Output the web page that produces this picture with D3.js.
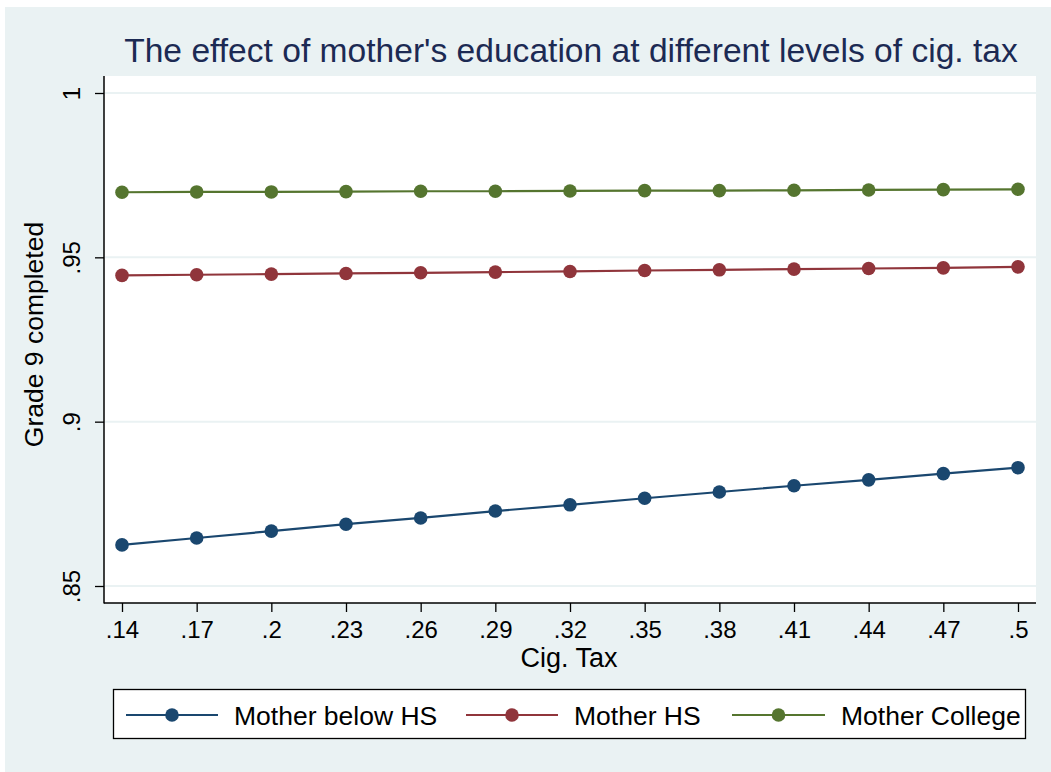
<!DOCTYPE html>
<html><head><meta charset="utf-8">
<script src="https://cdn.jsdelivr.net/npm/d3@7"></script>
<style>
html,body{margin:0;padding:0;background:#ffffff;}
svg{display:block;font-family:"Liberation Sans",Arial,sans-serif;}
</style></head>
<body><svg id="chart" width="1051" height="772"></svg>
<script>
const cigTax = [0.14,0.17,0.20,0.23,0.26,0.29,0.32,0.35,0.38,0.41,0.44,0.47,0.50];
const xTickLabels = [".14",".17",".2",".23",".26",".29",".32",".35",".38",".41",".44",".47",".5"];
const yTicks = [0.85,0.90,0.95,1.00];
const yTickLabels = [".85",".9",".95","1"];
const belowHS = [0.8625,0.8646,0.8667,0.8688,0.8707,0.8728,0.8747,0.8767,0.8786,0.8805,0.8823,0.8842,0.8860];
const motherHS = [0.9445,0.9447,0.9449,0.9451,0.9453,0.9455,0.9457,0.9460,0.9462,0.9464,0.9466,0.9468,0.9471];
const college = [0.9698,0.9699,0.9699,0.9700,0.9701,0.9701,0.9702,0.9703,0.9703,0.9704,0.9705,0.9706,0.9707];
const seriesNames = ["Mother below HS","Mother HS","Mother College"];
const seriesColors = ["#1a476f","#90353b","#55752f"];
const titleText = "The effect of mother's education at different levels of cig. tax";
const xTitle = "Cig. Tax";
const yTitle = "Grade 9 completed";

const svg = d3.select("#chart");
const W = 1051, H = 772;
const plot = {l:104, r:1036, t:76, b:603};

svg.append("rect").attr("x",5).attr("y",7).attr("width",W-5).attr("height",H-7).attr("fill","#eaf2f3");
svg.append("rect").attr("x",plot.l).attr("y",plot.t).attr("width",plot.r-plot.l).attr("height",plot.b-plot.t).attr("fill","#ffffff");

const x = d3.scaleLinear().domain([0.14,0.50]).range([122,1018]);
const y = d3.scaleLinear().domain([0.85,1.0]).range([586,93]);

// gridlines
svg.append("g").selectAll("line").data(yTicks).join("line")
  .attr("x1",plot.l+1).attr("x2",plot.r).attr("y1",d=>y(d)).attr("y2",d=>y(d))
  .attr("stroke","#eaf2f3").attr("stroke-width",2);

// y axis
const yAxis = d3.axisLeft(y).tickValues(yTicks).tickFormat((d,i)=>yTickLabels[i]).tickSize(9).tickSizeOuter(0);
const gy = svg.append("g").attr("transform",`translate(${plot.l},0)`).call(yAxis);
gy.select(".domain").remove();
gy.append("line").attr("x1",0).attr("x2",0).attr("y1",plot.t).attr("y2",plot.b+0.5).attr("stroke","#000").attr("stroke-width",1.5);
gy.selectAll(".tick line").attr("stroke","#000").attr("stroke-width",1.3);
gy.selectAll(".tick text").attr("font-size",24).attr("fill","#000")
  .attr("font-family","Liberation Sans, Arial, sans-serif")
  .attr("transform","rotate(-90)").attr("x",0).attr("y",-24).attr("dy",0)
  .attr("text-anchor","middle");

// x axis
const xAxis = d3.axisBottom(x).tickValues(cigTax).tickFormat((d,i)=>xTickLabels[i]).tickSize(9).tickSizeOuter(0);
const gx = svg.append("g").attr("transform",`translate(0,${plot.b})`).call(xAxis);
gx.select(".domain").remove();
gx.append("line").attr("x1",plot.l).attr("x2",plot.r).attr("y1",0).attr("y2",0).attr("stroke","#000").attr("stroke-width",1.5);
gx.selectAll(".tick line").attr("stroke","#000").attr("stroke-width",1.3);
gx.selectAll(".tick text").attr("font-size",24).attr("fill","#000")
  .attr("font-family","Liberation Sans, Arial, sans-serif")
  .attr("y",35).attr("dy",0);

// titles
svg.append("text").attr("x",(plot.l+plot.r)/2 + 1).attr("y",62).attr("text-anchor","middle")
  .attr("font-size",33.6).attr("fill","#1c2a53").text(titleText);
svg.append("text").attr("x",569).attr("y",667).attr("text-anchor","middle")
  .attr("font-size",27).attr("fill","#000").text(xTitle);
svg.append("text").attr("transform",`translate(43,${(plot.t+plot.b)/2 - 5}) rotate(-90)`).attr("text-anchor","middle")
  .attr("font-size",26.5).attr("fill","#000").text(yTitle);

// series
const allSeries = [belowHS, motherHS, college];
const line = d3.line().x((d,i)=>x(cigTax[i])).y(d=>y(d));
allSeries.forEach((vals,si)=>{
  const g = svg.append("g");
  g.append("path").datum(vals).attr("d",line).attr("fill","none")
    .attr("stroke",seriesColors[si]).attr("stroke-width",2.2);
  g.selectAll("circle").data(vals).join("circle")
    .attr("cx",(d,i)=>x(cigTax[i])).attr("cy",d=>y(d)).attr("r",6.8)
    .attr("fill",seriesColors[si]);
});

// legend
const leg = svg.append("g");
leg.append("rect").attr("x",113.5).attr("y",689.5).attr("width",912).attr("height",49)
  .attr("fill","#fff").attr("stroke","#000").attr("stroke-width",1.3);
const legItems = [{x0:126,x1:218,tx:234},{x0:466,x1:558,tx:574},{x0:732,x1:825,tx:841}];
const legY = 715;
legItems.forEach((it,i)=>{
  leg.append("line").attr("x1",it.x0).attr("x2",it.x1).attr("y1",legY).attr("y2",legY)
    .attr("stroke",seriesColors[i]).attr("stroke-width",2.2);
  leg.append("circle").attr("cx",(it.x0+it.x1)/2).attr("cy",legY).attr("r",6.8).attr("fill",seriesColors[i]);
  leg.append("text").attr("x",it.tx).attr("y",legY+9.5).attr("font-size",26.5).attr("fill","#000").text(seriesNames[i]);
});
</script></body></html>
